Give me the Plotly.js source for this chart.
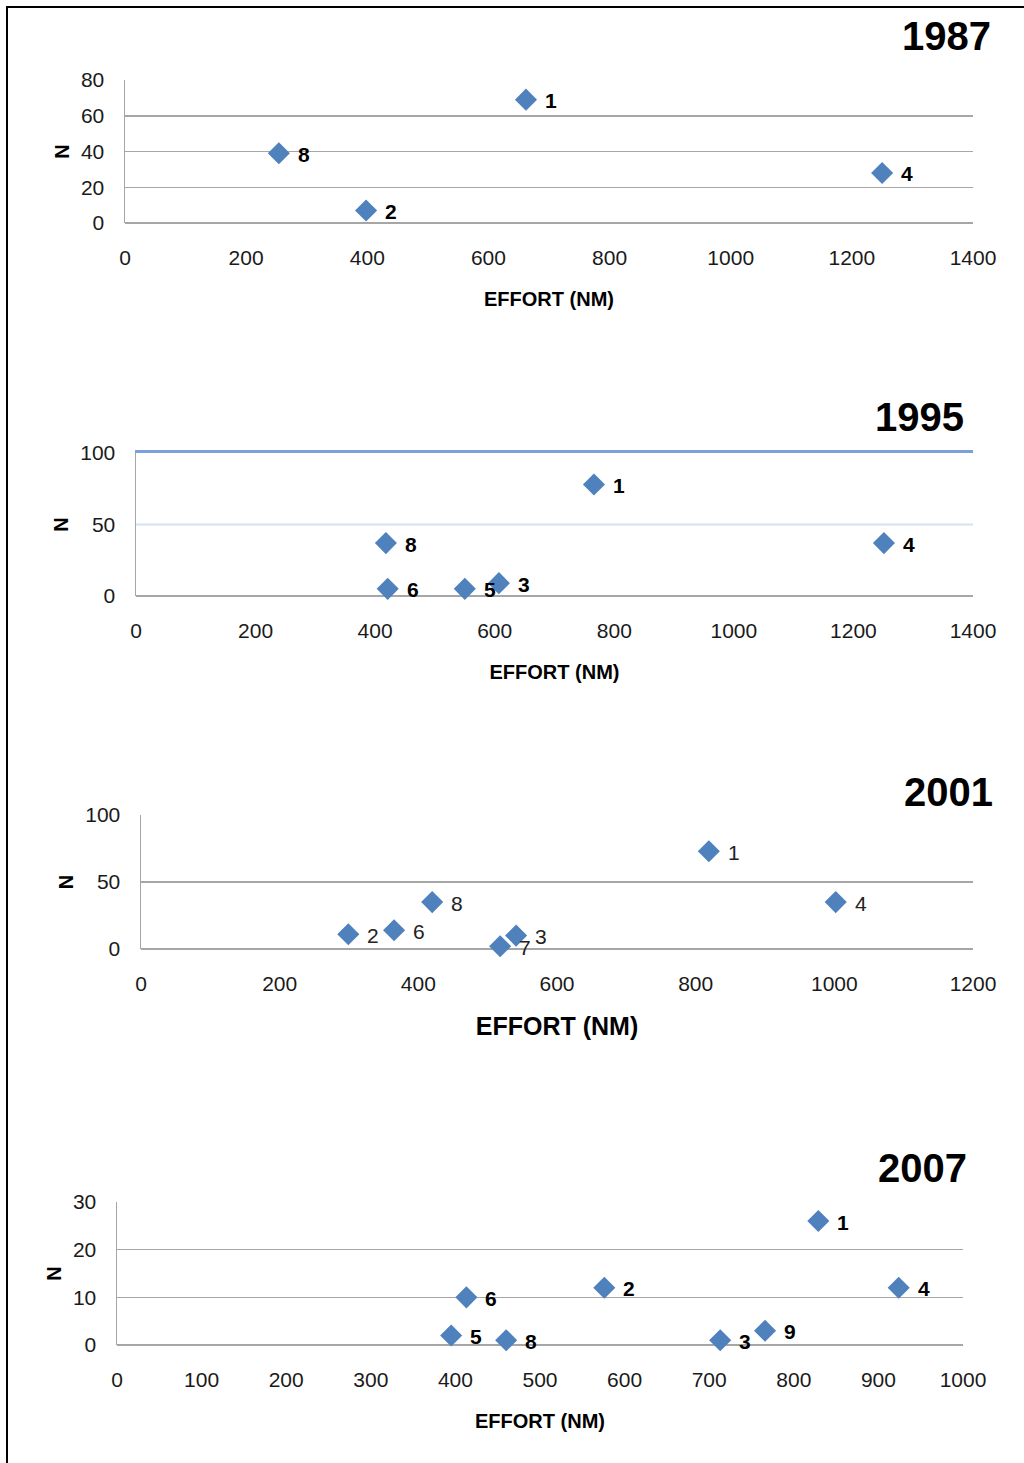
<!DOCTYPE html>
<html>
<head>
<meta charset="utf-8">
<script src="https://cdn.plot.ly/plotly-3.0.1.min.js"></script>
<style>html,body{margin:0;padding:0;background:#fff;}#chart{width:1024px;height:1463px;}</style>
</head>
<body>
<div id="chart"></div>
<script>
// ---- Data ----
const years = ['1987', '1995', '2001', '2007'];

const labels1987 = ['1', '8', '2', '4'];
const effort1987 = [662, 254, 398, 1250];
const n1987 = [69, 39, 7, 28];

const labels1995 = ['1', '8', '4', '6', '5', '3'];
const effort1995 = [766, 418, 1251, 421, 550, 607];
const n1995 = [78, 37, 37, 5, 5, 9];

const labels2001 = ['1', '8', '4', '2', '6', '7', '3'];
const effort2001 = [819, 420, 1002, 299, 365, 518, 541];
const n2001 = [73, 35, 35, 11, 14, 2, 10];

const labels2007 = ['1', '6', '2', '4', '5', '8', '3', '9'];
const effort2007 = [829, 413, 576, 924, 395, 460, 713, 766];
const n2007 = [26, 10, 12, 12, 2, 1, 1, 3];

const xRanges = [[0, 1400], [0, 1400], [0, 1200], [0, 1000]];
const xDtick = [200, 200, 200, 100];
const yRanges = [[0, 80], [0, 100], [0, 100], [0, 30]];
const yDtick = [20, 50, 50, 10];
const xTitle = 'EFFORT (NM)';
const yTitle = 'N';

// ---- Layout geometry (pixels) ----
const W = 1024, H = 1463;
const boxes = [
  {l:125, r:973, t:80, b:223, titleX:990, titleY:36},
  {l:136, r:973, t:453, b:596, titleX:963, titleY:417},
  {l:141, r:973, t:815, b:949, titleX:992, titleY:792},
  {l:117, r:963, t:1202, b:1345, titleX:966, titleY:1168}
];
const FONT = '"Liberation Sans Narrow", "Arial Narrow", "Liberation Sans", Arial, sans-serif';
const dataSets = [
  [effort1987, n1987, labels1987],
  [effort1995, n1995, labels1995],
  [effort2001, n2001, labels2001],
  [effort2007, n2007, labels2007]
];
const labelBold = [true, true, false, true];
const xTitleSize = [20, 20, 25, 20];

const traces = [];
const layout = {
  width: W, height: H,
  margin: {l:0, r:0, t:0, b:0},
  paper_bgcolor: '#fff', plot_bgcolor: '#fff',
  showlegend: false,
  font: {family: FONT, color: '#1a1a1a', size: 21},
  annotations: [], shapes: []
};

dataSets.forEach((d, i) => {
  const k = i + 1;
  const xa = 'x' + (k === 1 ? '' : k), ya = 'y' + (k === 1 ? '' : k);
  const xKey = 'xaxis' + (k === 1 ? '' : k), yKey = 'yaxis' + (k === 1 ? '' : k);
  const b = boxes[i];
  traces.push({
    type: 'scatter', mode: 'markers', x: d[0], y: d[1], xaxis: xa, yaxis: ya,
    marker: {symbol: 'diamond', size: 17, color: '#4f81bd', line: {width: 0}},
    cliponaxis: false, hoverinfo: 'x+y'
  });
  layout[xKey] = {
    domain: [b.l / W, b.r / W], anchor: ya, range: xRanges[i], dtick: xDtick[i], tick0: 0,
    showgrid: false, zeroline: false, showline: false,
    ticks: '', ticklabelstandoff: 20, tickfont: {size: 21, color: '#1a1a1a'},
    title: {text: xTitle, standoff: 23, font: {size: xTitleSize[i], color: '#000', weight: 'bold'}},
    fixedrange: true
  };
  layout[yKey] = {
    domain: [1 - b.b / H, 1 - b.t / H], anchor: xa, range: yRanges[i], dtick: yDtick[i], tick0: 0,
    showgrid: i !== 1, gridcolor: '#a6a6a6', gridwidth: 1.5,
    zeroline: true, zerolinecolor: '#a6a6a6', zerolinewidth: 1.5,
    showline: true, linecolor: '#a6a6a6', linewidth: 1.5,
    ticks: '', ticklabelstandoff: 15, tickfont: {size: 21, color: '#1a1a1a'},
    title: {text: yTitle, standoff: 6, font: {size: 20, color: '#000', weight: 'bold'}},
    fixedrange: true
  };
  // point labels
  d[0].forEach((xv, j) => {
    layout.annotations.push({
      x: xv, y: d[1][j], xref: xa, yref: ya, text: d[2][j], showarrow: false,
      xanchor: 'left', yanchor: 'middle', xshift: 17, yshift: -1,
      font: {size: 21, color: labelBold[i] ? '#000' : '#222', weight: labelBold[i] ? 'bold' : 'normal'}
    });
  });
  // year title
  layout.annotations.push({
    x: b.titleX / W, y: 1 - b.titleY / H, xref: 'paper', yref: 'paper', text: years[i],
    showarrow: false, xanchor: 'right', yanchor: 'middle', xshift: 3,
    font: {size: 40, color: '#000', weight: 'bold'}
  });
});

// 1995 panel: coloured gridlines (Excel styling) — light blue at 50, blue line at the top (100)
layout.shapes.push({type: 'line', xref: 'x2 domain', yref: 'y2', x0: 0, x1: 1, y0: 50, y1: 50,
  line: {color: '#d5e2f3', width: 2}, layer: 'above'});
layout.xaxis5 = {
  overlaying: 'x2', side: 'top', anchor: 'y2', range: xRanges[1],
  showline: true, linecolor: '#7aa1db', linewidth: 3,
  showticklabels: false, showgrid: false, zeroline: false, ticks: '', fixedrange: true
};
traces.push({type: 'scatter', mode: 'markers', x: [], y: [], xaxis: 'x5', yaxis: 'y2', hoverinfo: 'skip'});

// outer frame
layout.shapes.push({type: 'rect', xref: 'paper', yref: 'paper', x0: 7 / W, x1: 1.02, y0: -0.02, y1: 1 - 7 / H,
  line: {color: '#000', width: 2}, fillcolor: 'rgba(0,0,0,0)', layer: 'above'});

Plotly.newPlot('chart', traces, layout, {staticPlot: true, displayModeBar: false});
</script>
</body>
</html>
